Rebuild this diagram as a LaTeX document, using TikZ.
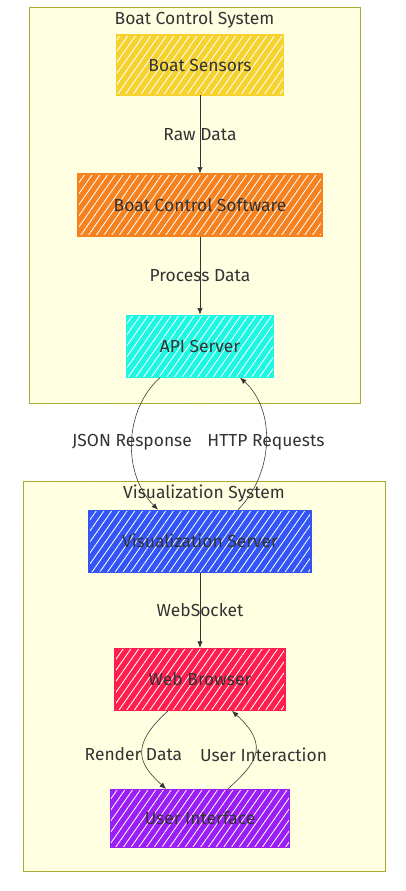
\documentclass[tikz,border=0pt]{standalone}
\usepackage{fontspec}
\setmainfont{Fira Sans}
\usetikzlibrary{fit,positioning,arrows.meta,patterns.meta}
\definecolor{inkgray}{HTML}{333333}
\definecolor{clusterfill}{HTML}{FFFFDE}
\definecolor{clusterline}{HTML}{AAAA33}
\definecolor{sensorcol}{HTML}{F5D22E}
\definecolor{softcol}{HTML}{F5821F}
\definecolor{apicol}{HTML}{1EF8E2}
\definecolor{viscol}{HTML}{3355F5}
\definecolor{browsercol}{HTML}{FF1F4F}
\definecolor{uicol}{HTML}{9B1EF5}

\begin{document}
\begin{tikzpicture}[
                    node distance=1.95cm,
                    font=\fontsize{12.4}{14}\selectfont,
                    text=inkgray,
                    cluster/.style={draw=clusterline, thin, rectangle, inner sep=0pt, preaction={fill=clusterfill}, pattern={Lines[angle=45, distance=5pt, line width=0.5pt]}, pattern color=white},
                    ctitle/.style={inner sep=1pt},
                    block/.style={rectangle, thick, minimum height=1.55cm, align=center, draw=#1, preaction={fill=#1}, pattern={Lines[angle=55, distance=4.5pt, line width=0.6pt]}, pattern color=white},
                    elabel/.style={inner sep=1pt},
                    arrow/.style={-{Latex[length=1.6mm,width=1.3mm]}, thin, draw=inkgray}
                ]
                \useasboundingbox (0,0) rectangle (10.125,-22.275);

                % Clusters
                \node[cluster, fit={(0.725,-0.175) (9,-10.075)}] (boatsys) {};
                \node[ctitle, below=0.07cm of boatsys.north] (boattitle) {Boat Control System};
                \node[cluster, fit={(0.575,-12.025) (9.625,-21.775)}] (vissys) {};
                \node[ctitle, below=0.07cm of vissys.north] (vistitle) {Visualization System};

                % Boat side
                \node[block=sensorcol, minimum width=4.175cm, minimum height=1.5cm] (sensors) at (5,-1.625) {Boat Sensors};
                \node[block=softcol, minimum width=6.1cm, below=of sensors] (software) {Boat Control Software};
                \node[block=apicol, minimum width=3.675cm, below=of software] (api) {API Server};

                % Visualization side
                \node[block=viscol, minimum width=5.55cm, below=3.3cm of api] (visserver) {Visualization Server};
                \node[block=browsercol, minimum width=4.25cm, below=1.875cm of visserver] (browser) {Web Browser};
                \node[block=uicol, minimum width=4.475cm, minimum height=1.45cm, below=of browser] (ui) {User Interface};

                % Connections
                \draw[arrow] (sensors) -- node[elabel] {Raw Data} (software);
                \draw[arrow] (software) -- node[elabel] {Process Data} (api);
                \draw[arrow] ([xshift=-1cm]api.south) .. controls +(-0.9,-0.8) and +(-0.9,0.9) .. node[elabel] {JSON Response} ([xshift=-1.05cm]visserver.north);
                \draw[arrow] ([xshift=0.95cm]visserver.north) .. controls +(0.9,0.9) and +(0.9,-0.8) .. node[elabel] {HTTP Requests} ([xshift=1cm]api.south);
                \draw[arrow] (visserver) -- node[elabel] {WebSocket} (browser);
                \draw[arrow] ([xshift=-0.8cm]browser.south) .. controls +(-1,-0.9) and +(-0.65,0.6) .. node[elabel, xshift=-0.22cm] {Render Data} ([xshift=-0.85cm]ui.north);
                \draw[arrow] ([xshift=0.7cm]ui.north) .. controls +(0.65,0.6) and +(1,-0.9) .. node[elabel, xshift=0.22cm] {User Interaction} ([xshift=0.8cm]browser.south);
            \end{tikzpicture}
\end{document}
